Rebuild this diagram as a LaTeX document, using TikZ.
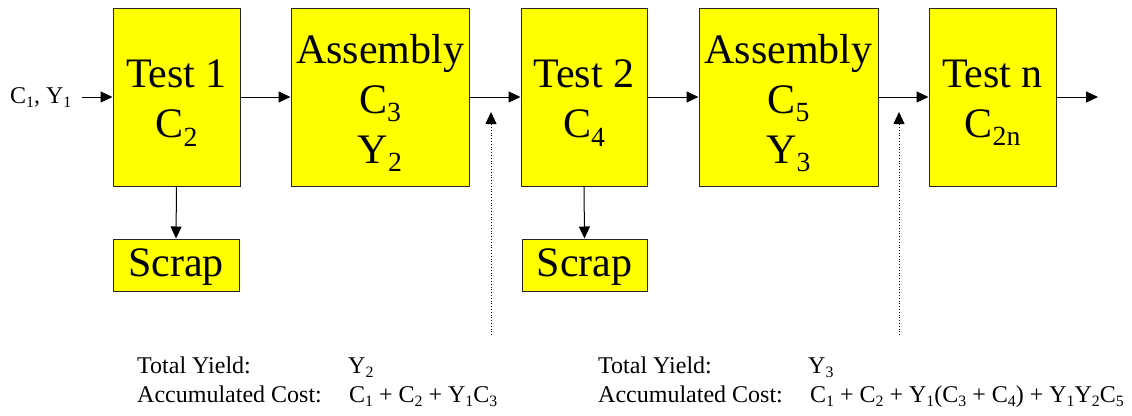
\documentclass[tikz,border=0pt]{standalone}
\usepackage{fontspec}
\usepackage{graphicx}
\setmainfont{Liberation Serif}
\newfontfamily\boxfont{Liberation Serif}
\usetikzlibrary{arrows.meta}
\newcommand{\sbs}[1]{\raisebox{-0.2em}{\scalebox{0.66}{#1}}}
\definecolor{boxyellow}{RGB}{255,255,0}
\tikzset{
  blk/.style={draw=black!85, line width=1pt, fill=boxyellow, inner sep=0pt},
  blktxt/.style={align=center, inner sep=0pt, yshift=-6pt,
    font=\boxfont\fontsize{42}{50}\selectfont},
  flow/.style={line width=1pt, -{Triangle[length=12pt,width=11pt]}},
  probe/.style={line width=0.8pt, dotted, -{Triangle[length=12pt,width=11pt]}},
  note/.style={anchor=base west, inner sep=0pt, font=\boxfont\fontsize{24}{29}\selectfont}
}
\begin{document}
\begin{tikzpicture}[x=1pt,y=-1pt]
\useasboundingbox (0,0) rectangle (1132,415);
\node[blk, minimum width=127pt, minimum height=178pt] (t1) at (176.5,97) {};
\node[blk, minimum width=178pt, minimum height=178pt] (a1) at (380,97) {};
\node[blk, minimum width=126pt, minimum height=178pt] (t2) at (584,97) {};
\node[blk, minimum width=179pt, minimum height=178pt] (a2) at (788.5,97) {};
\node[blk, minimum width=127pt, minimum height=178pt] (tn) at (992.5,97) {};
\node[blk, minimum width=126pt, minimum height=52pt] (s1) at (176,265) {};
\node[blk, minimum width=125pt, minimum height=52pt] (s2) at (584.5,265) {};

\node[blktxt] (t1x) at (t1.center) {Test 1\\C\sbs{2}};
\node[blktxt] (a1x) at (a1.center) {Assembly\\C\sbs{3}\\Y\sbs{2}};
\node[blktxt] (t2x) at (t2.center) {Test 2\\C\sbs{4}};
\node[blktxt] (a2x) at (a2.center) {Assembly\\C\sbs{5}\\Y\sbs{3}};
\node[blktxt] (tnx) at (tn.center) {Test n\\C\sbs{2n}};
\node[blktxt, yshift=4pt] (s1x) at (s1.center) {Scrap};
\node[blktxt, yshift=4pt] (s2x) at (s2.center) {Scrap};

\node[note] (in) at (10,103) {C\sbs{1}, Y\sbs{1}};
\coordinate (inS) at (82,97);
\coordinate (outE) at (1098,97);
\coordinate (p1b) at (491,335);
\coordinate (p1t) at (491,112);
\coordinate (p2b) at (899,335);
\coordinate (p2t) at (899,112);

\draw[flow] (inS) -- (t1.west);
\draw[flow] (t1) -- (a1);
\draw[flow] (a1) -- (t2);
\draw[flow] (t2) -- (a2);
\draw[flow] (a2) -- (tn);
\draw[flow] (tn.east) -- (outE);
\draw[flow] (t1.south) -- (s1.north);
\draw[flow] (t2.south) -- (s2.north);
\draw[probe] (p1b) -- (p1t);
\draw[probe] (p2b) -- (p2t);

\node[note] (ty1) at (137,373) {Total Yield:};
\node[note] (ty1v) at (348,373) {Y\sbs{2}};
\node[note] (ac1) at (137,402) {Accumulated Cost:};
\node[note] (ac1v) at (349,402) {C\sbs{1} + C\sbs{2} + Y\sbs{1}C\sbs{3}};
\node[note] (ty2) at (598,373) {Total Yield:};
\node[note] (ty2v) at (808,373) {Y\sbs{3}};
\node[note] (ac2) at (598,402) {Accumulated Cost:};
\node[note] (ac2v) at (810,402) {C\sbs{1} + C\sbs{2} + Y\sbs{1}(C\sbs{3} + C\sbs{4}) + Y\sbs{1}Y\sbs{2}C\sbs{5}};
\end{tikzpicture}
\end{document}
